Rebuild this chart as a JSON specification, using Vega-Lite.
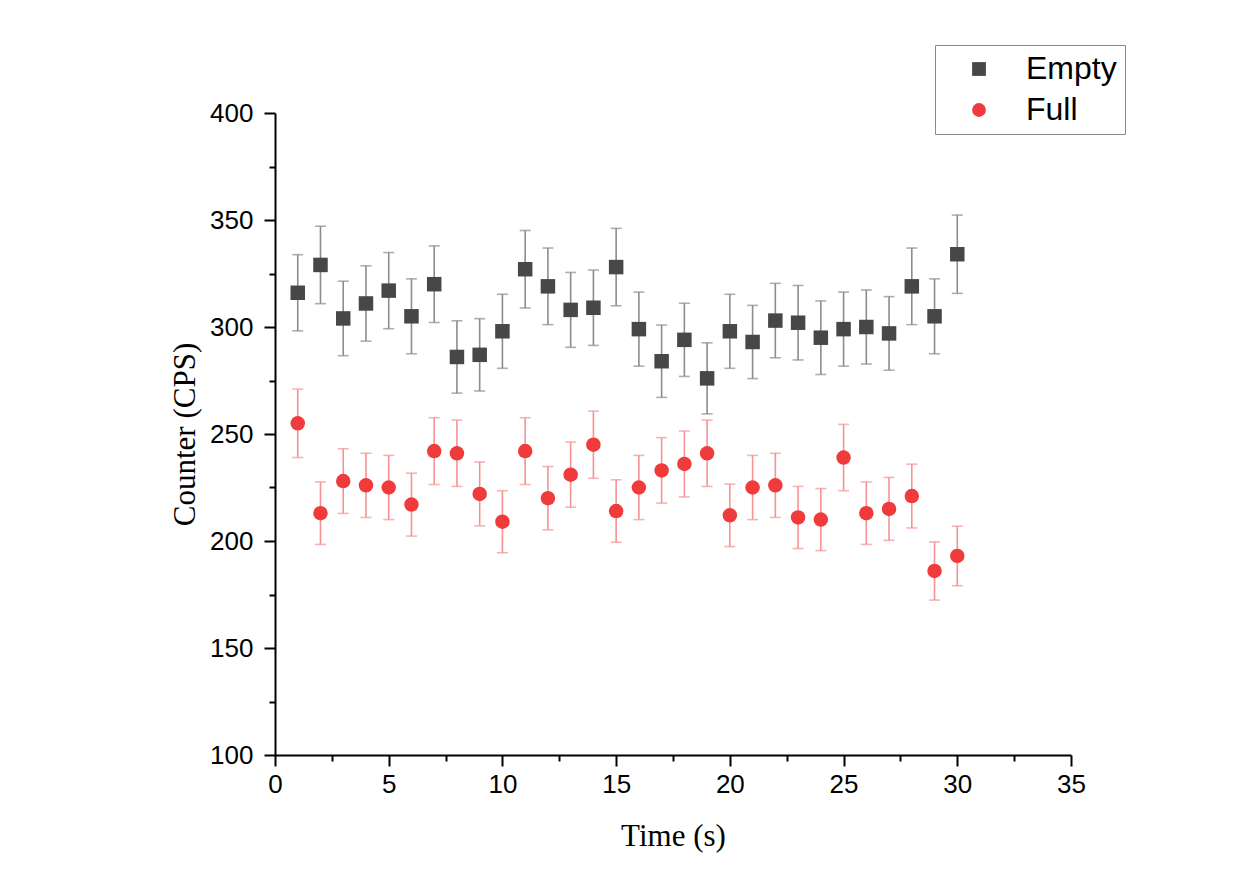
{
  "$schema": "https://vega.github.io/schema/vega-lite/v6.json",
  "autosize": {"type": "none"},
  "padding": {"left": 275, "top": 113, "right": 175, "bottom": 141},
  "width": 796,
  "height": 642,
  "background": "white",
  "config": {
    "view": {"stroke": null},
    "axis": {
      "grid": false,
      "domainColor": "black",
      "domainWidth": 2,
      "tickColor": "black",
      "tickWidth": 2,
      "labelFont": "Liberation Sans",
      "labelFontSize": 26,
      "labelColor": "black",
      "titleFont": "Liberation Serif",
      "titleFontSize": 31,
      "titleFontWeight": "normal",
      "titleColor": "black"
    }
  },
  "data": {
    "values": [
      {"t":1,"s":"Empty","v":316,"lo":298.2,"hi":333.8},
      {"t":2,"s":"Empty","v":329,"lo":310.9,"hi":347.1},
      {"t":3,"s":"Empty","v":304,"lo":286.6,"hi":321.4},
      {"t":4,"s":"Empty","v":311,"lo":293.4,"hi":328.6},
      {"t":5,"s":"Empty","v":317,"lo":299.2,"hi":334.8},
      {"t":6,"s":"Empty","v":305,"lo":287.5,"hi":322.5},
      {"t":7,"s":"Empty","v":320,"lo":302.1,"hi":337.9},
      {"t":8,"s":"Empty","v":286,"lo":269.1,"hi":302.9},
      {"t":9,"s":"Empty","v":287,"lo":270.1,"hi":303.9},
      {"t":10,"s":"Empty","v":298,"lo":280.7,"hi":315.3},
      {"t":11,"s":"Empty","v":327,"lo":308.9,"hi":345.1},
      {"t":12,"s":"Empty","v":319,"lo":301.1,"hi":336.9},
      {"t":13,"s":"Empty","v":308,"lo":290.5,"hi":325.5},
      {"t":14,"s":"Empty","v":309,"lo":291.4,"hi":326.6},
      {"t":15,"s":"Empty","v":328,"lo":309.9,"hi":346.1},
      {"t":16,"s":"Empty","v":299,"lo":281.7,"hi":316.3},
      {"t":17,"s":"Empty","v":284,"lo":267.1,"hi":300.9},
      {"t":18,"s":"Empty","v":294,"lo":276.9,"hi":311.1},
      {"t":19,"s":"Empty","v":276,"lo":259.4,"hi":292.6},
      {"t":20,"s":"Empty","v":298,"lo":280.7,"hi":315.3},
      {"t":21,"s":"Empty","v":293,"lo":275.9,"hi":310.1},
      {"t":22,"s":"Empty","v":303,"lo":285.6,"hi":320.4},
      {"t":23,"s":"Empty","v":302,"lo":284.6,"hi":319.4},
      {"t":24,"s":"Empty","v":295,"lo":277.8,"hi":312.2},
      {"t":25,"s":"Empty","v":299,"lo":281.7,"hi":316.3},
      {"t":26,"s":"Empty","v":300,"lo":282.7,"hi":317.3},
      {"t":27,"s":"Empty","v":297,"lo":279.8,"hi":314.2},
      {"t":28,"s":"Empty","v":319,"lo":301.1,"hi":336.9},
      {"t":29,"s":"Empty","v":305,"lo":287.5,"hi":322.5},
      {"t":30,"s":"Empty","v":334,"lo":315.7,"hi":352.3},
      {"t":1,"s":"Full","v":255,"lo":239.0,"hi":271.0},
      {"t":2,"s":"Full","v":213,"lo":198.4,"hi":227.6},
      {"t":3,"s":"Full","v":228,"lo":212.9,"hi":243.1},
      {"t":4,"s":"Full","v":226,"lo":211.0,"hi":241.0},
      {"t":5,"s":"Full","v":225,"lo":210.0,"hi":240.0},
      {"t":6,"s":"Full","v":217,"lo":202.3,"hi":231.7},
      {"t":7,"s":"Full","v":242,"lo":226.4,"hi":257.6},
      {"t":8,"s":"Full","v":241,"lo":225.5,"hi":256.5},
      {"t":9,"s":"Full","v":222,"lo":207.1,"hi":236.9},
      {"t":10,"s":"Full","v":209,"lo":194.5,"hi":223.5},
      {"t":11,"s":"Full","v":242,"lo":226.4,"hi":257.6},
      {"t":12,"s":"Full","v":220,"lo":205.2,"hi":234.8},
      {"t":13,"s":"Full","v":231,"lo":215.8,"hi":246.2},
      {"t":14,"s":"Full","v":245,"lo":229.3,"hi":260.7},
      {"t":15,"s":"Full","v":214,"lo":199.4,"hi":228.6},
      {"t":16,"s":"Full","v":225,"lo":210.0,"hi":240.0},
      {"t":17,"s":"Full","v":233,"lo":217.7,"hi":248.3},
      {"t":18,"s":"Full","v":236,"lo":220.6,"hi":251.4},
      {"t":19,"s":"Full","v":241,"lo":225.5,"hi":256.5},
      {"t":20,"s":"Full","v":212,"lo":197.4,"hi":226.6},
      {"t":21,"s":"Full","v":225,"lo":210.0,"hi":240.0},
      {"t":22,"s":"Full","v":226,"lo":211.0,"hi":241.0},
      {"t":23,"s":"Full","v":211,"lo":196.5,"hi":225.5},
      {"t":24,"s":"Full","v":210,"lo":195.5,"hi":224.5},
      {"t":25,"s":"Full","v":239,"lo":223.5,"hi":254.5},
      {"t":26,"s":"Full","v":213,"lo":198.4,"hi":227.6},
      {"t":27,"s":"Full","v":215,"lo":200.3,"hi":229.7},
      {"t":28,"s":"Full","v":221,"lo":206.1,"hi":235.9},
      {"t":29,"s":"Full","v":186,"lo":172.4,"hi":199.6},
      {"t":30,"s":"Full","v":193,"lo":179.1,"hi":206.9}
    ]
  },
  "encoding": {
    "x": {
      "field": "t",
      "type": "quantitative",
      "scale": {"domain": [0, 35], "nice": false, "zero": false},
      "axis": {
        "title": "Time (s)",
        "values": [0,2.5,5,7.5,10,12.5,15,17.5,20,22.5,25,27.5,30,32.5,35],
        "labelExpr": "datum.value % 5 === 0 ? datum.label : ''",
        "tickSize": {"condition": {"test": "datum.value % 5 !== 0", "value": 6}, "value": 11},
        "labelPadding": 5,
        "titlePadding": 24,
        "labelFlush": false,
        "labelOverlap": false
      }
    }
  },
  "layer": [
    {
      "mark": {"type": "rule", "strokeWidth": 1.6},
      "encoding": {
        "y": {"field": "lo", "type": "quantitative"},
        "y2": {"field": "hi"},
        "color": {"condition": {"test": "datum.s === 'Empty'", "value": "#8c8c8c"}, "value": "#f59393"}
      }
    },
    {
      "mark": {"type": "tick", "orient": "horizontal", "size": 11, "thickness": 1.6},
      "encoding": {
        "y": {"field": "lo", "type": "quantitative"},
        "color": {"condition": {"test": "datum.s === 'Empty'", "value": "#8c8c8c"}, "value": "#f59393"}
      }
    },
    {
      "mark": {"type": "tick", "orient": "horizontal", "size": 11, "thickness": 1.6},
      "encoding": {
        "y": {"field": "hi", "type": "quantitative"},
        "color": {"condition": {"test": "datum.s === 'Empty'", "value": "#8c8c8c"}, "value": "#f59393"}
      }
    },
    {
      "mark": {"type": "point", "filled": true, "opacity": 1, "size": 210},
      "encoding": {
        "y": {
          "field": "v",
          "type": "quantitative",
          "scale": {"domain": [100, 400], "nice": false, "zero": false},
          "axis": {
            "title": "Counter (CPS)",
            "values": [100,125,150,175,200,225,250,275,300,325,350,375,400],
            "labelExpr": "datum.value % 50 === 0 ? datum.label : ''",
            "tickSize": {"condition": {"test": "datum.value % 50 !== 0", "value": 6}, "value": 11},
            "labelPadding": 11,
            "titlePadding": 8,
            "labelOverlap": false
          }
        },
        "color": {
          "field": "s",
          "type": "nominal",
          "scale": {"domain": ["Empty", "Full"], "range": ["#474747", "#ef3b3b"]},
          "legend": {
            "title": null,
            "orient": "none",
            "legendX": 660,
            "legendY": -68,
            "strokeColor": "#8a8a8a",
            "padding": 8,
            "symbolOffset": 20,
            "symbolSize": 190,
            "labelOffset": 31,
            "labelFont": "Liberation Sans",
            "labelFontSize": 32,
            "labelColor": "black",
            "rowPadding": 9,
            "symbolStrokeWidth": 0
          }
        },
        "shape": {
          "field": "s",
          "type": "nominal",
          "scale": {"domain": ["Empty", "Full"], "range": ["square", "circle"]}
        }
      }
    }
  ]
}
